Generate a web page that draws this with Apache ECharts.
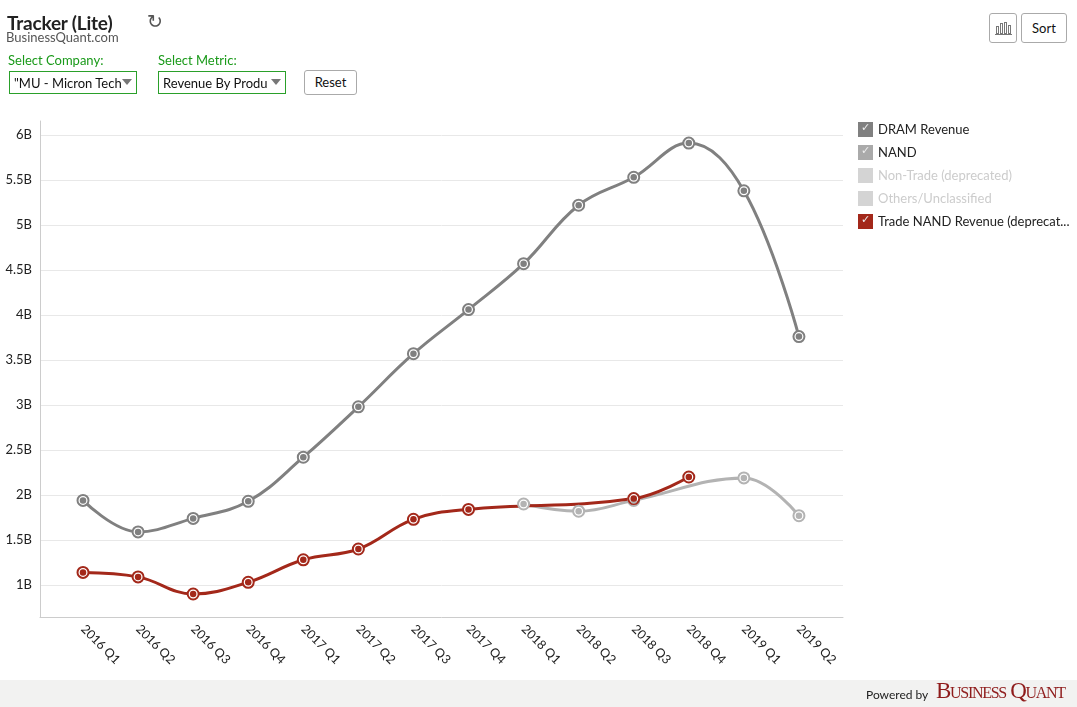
<!DOCTYPE html>
<html><head><meta charset="utf-8">
<script src="https://cdn.jsdelivr.net/npm/echarts@6/dist/echarts.min.js"></script>
<style>
html,body{margin:0;padding:0;background:#fff;width:1077px;height:707px;overflow:hidden;font-family:Lato,"Open Sans",sans-serif;}
#chart{position:absolute;left:0;top:0;width:1077px;height:680px;}
.abs{position:absolute;}
.title{left:7px;top:11px;font-size:19px;font-weight:bold;color:#222;letter-spacing:-0.2px;}
.sub{left:6px;top:29px;font-size:13px;color:#555;}
.lbl{font-size:13px;color:#1a9a1a;}
.sel{border:1px solid #2aa02a;height:23px;box-sizing:border-box;font-size:13px;color:#111;padding:3px 4px;white-space:nowrap;overflow:hidden;background:#fff;}
.arrow{position:absolute;right:4px;top:7px;width:0;height:0;border-left:5px solid transparent;border-right:5px solid transparent;border-top:6px solid #777;}
.btn{border:1px solid #aaa;border-radius:3px;box-sizing:border-box;font-size:13px;color:#111;text-align:center;background:#fff;}
.foot{left:0;top:680px;width:1077px;height:27px;background:#f2f2f1;}
</style></head>
<body>
<div id="chart"></div>
<div class="abs title">Tracker (Lite)</div>
<div class="abs sub">BusinessQuant.com</div>
<div class="abs" style="left:147px;top:10px;font-size:19px;color:#555;font-family:'DejaVu Sans';">↻</div>
<div class="abs lbl" style="left:8px;top:52px;">Select Company:</div>
<div class="abs lbl" style="left:158px;top:52px;">Select Metric:</div>
<div class="abs sel" style="left:9px;top:71px;width:128px;">"MU - Micron Tech<span class="arrow"></span></div>
<div class="abs sel" style="left:158px;top:71px;width:128px;">Revenue By Produ<span class="arrow"></span></div>
<div class="abs btn" style="left:304px;top:70px;width:53px;height:25px;line-height:23px;">Reset</div>
<div class="abs btn" style="left:989px;top:13px;width:28px;height:30px;">
<svg width="26" height="28" viewBox="0 0 26 28"><g fill="none" stroke="#777" stroke-width="1"><rect x="6.5" y="12.5" width="2" height="7"/><rect x="10.5" y="9.5" width="2" height="10"/><rect x="14.5" y="8.5" width="2" height="11"/><rect x="18.5" y="11.5" width="2" height="8"/><line x1="5" y1="20.5" x2="22" y2="20.5"/></g></svg></div>
<div class="abs btn" style="left:1021px;top:13px;width:46px;height:30px;line-height:28px;">Sort</div>
<div class="abs foot"></div>
<div class="abs" style="left:866px;top:687px;font-size:12px;color:#222;">Powered by</div>
<div class="abs" style="left:936px;top:678px;font-family:'Liberation Serif',serif;font-size:23px;color:#8e1b1b;font-variant:small-caps;letter-spacing:-1.3px;">Business Quant</div>
<script>
const categories = ["2016 Q1","2016 Q2","2016 Q3","2016 Q4","2017 Q1","2017 Q2","2017 Q3","2017 Q4","2018 Q1","2018 Q2","2018 Q3","2018 Q4","2019 Q1","2019 Q2"];
const dramRevenue = [1.94,1.59,1.74,1.93,2.42,2.98,3.57,4.06,4.57,5.22,5.53,5.91,5.38,3.76];
const nand = [null,null,null,null,null,null,null,null,1.90,1.82,1.94,null,2.19,1.77];
const tradeNand = [1.14,1.09,0.90,1.03,1.28,1.40,1.73,1.84,null,null,1.96,2.20,null,null];
const yTicks = [1,1.5,2,2.5,3,3.5,4,4.5,5,5.5,6];
const legendNames = ["DRAM Revenue","NAND","Non-Trade (deprecated)","Others/Unclassified","Trade NAND Revenue (deprecated)"];

const pairs = arr => arr.map((v,i)=> [i,v]);
const dots = arr => arr.map((v,i)=> [i,v]).filter(p=>p[1]!=null);

const C_DRAM = '#808080', C_NAND = '#b3b3b3', C_RED = '#a3281a';

function lineSeries(name, arr, color){
  return {
    name: name+' line', type:'line', data: pairs(arr), connectNulls:true, smooth:0.4,
    symbol:'emptyCircle', symbolSize:11, showAllSymbol:true,
    lineStyle:{color, width:3},
    itemStyle:{color, borderColor:color, borderWidth:1.2},
    emphasis:{disabled:true}, z:2
  };
}
function dotSeries(name, arr, color){
  return {
    name, type:'scatter', data: dots(arr), symbolSize:6.5,
    itemStyle:{color, opacity:1}, emphasis:{disabled:true}, z:3, silent:true
  };
}

const chart = echarts.init(document.getElementById('chart'), null, {renderer:'canvas'});
const checks = [0,1,4].map(i => ({
  type:'text', left:861, top:123 + i*23,
  style:{text:'✓', fill:'#eeeeee', font:'11px "DejaVu Sans"'}, z:100
}));

chart.setOption({
  animation:false,
  textStyle:{fontFamily:'Lato, "Open Sans", sans-serif'},
  grid:{left:40, top:121, width:803, height:496, containLabel:false},
  xAxis:{
    type:'value', min:-0.781, max:13.8,
    axisLine:{show:true, onZero:false, lineStyle:{color:'#cccccc', width:1}},
    axisTick:{show:false},
    splitLine:{show:false},
    axisLabel:{customValues:categories.map((c,i)=>i), rotate:-45, margin:10, fontSize:12.5, color:'#222',
      formatter: v => categories[Math.round(v)]}
  },
  yAxis:{
    type:'value', min:0.6444, max:6.1556,
    axisLine:{show:true, onZero:false, lineStyle:{color:'#cccccc', width:1}},
    axisTick:{show:false, customValues:yTicks},
    splitLine:{show:true, lineStyle:{color:'#e8e8e8', width:1}},
    axisLabel:{customValues:yTicks, margin:8, fontSize:13, color:'#222', formatter: v => v + 'B'}
  },
  legend:{
    orient:'vertical', left:858, top:122, padding:0, itemWidth:15, itemHeight:15, itemGap:8, icon:'rect',
    inactiveColor:'#cccccc',
    textStyle:{fontSize:13, color:'#222', width:195, overflow:'truncate', ellipsis:'...'},
    selectedMode:false,
    data:[
      {name:legendNames[0], itemStyle:{color:C_DRAM, borderWidth:0, opacity:1}},
      {name:legendNames[1], itemStyle:{color:'#aaaaaa', borderWidth:0, opacity:1}},
      {name:legendNames[2], itemStyle:{color:'#d4d4d4', borderWidth:0, opacity:1}, textStyle:{color:'#cccccc'}},
      {name:legendNames[3], itemStyle:{color:'#d4d4d4', borderWidth:0, opacity:1}, textStyle:{color:'#cccccc'}},
      {name:legendNames[4], itemStyle:{color:C_RED, borderWidth:0, opacity:1}}
    ]
  },
  graphic: checks,
  series:[
    lineSeries(legendNames[0], dramRevenue, C_DRAM),
    dotSeries(legendNames[0], dramRevenue, C_DRAM),
    lineSeries(legendNames[1], nand, C_NAND),
    dotSeries(legendNames[1], nand, C_NAND),
    {name:legendNames[2], type:'scatter', data:[], itemStyle:{opacity:1}},
    {name:legendNames[3], type:'scatter', data:[], itemStyle:{opacity:1}},
    lineSeries(legendNames[4], tradeNand, C_RED),
    dotSeries(legendNames[4], tradeNand, C_RED)
  ]
});
</script>
</body></html>
